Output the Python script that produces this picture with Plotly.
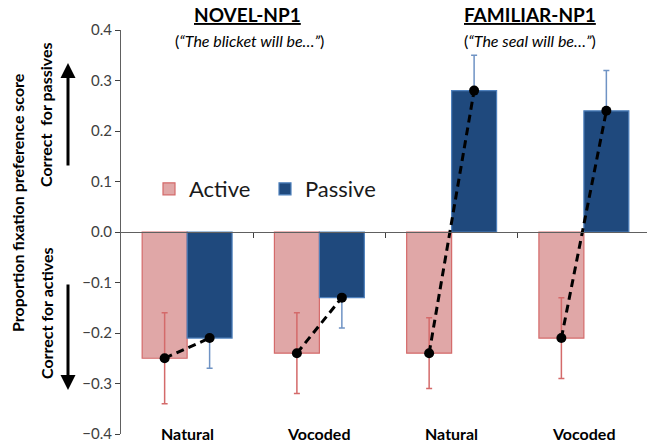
import plotly.graph_objects as go

categories = ["Natural", "Vocoded", "Natural", "Vocoded"]
active_vals = [-0.25, -0.24, -0.24, -0.21]
active_err = [0.09, 0.08, 0.07, 0.08]
passive_vals = [-0.21, -0.13, 0.28, 0.24]
passive_err = [0.06, 0.06, 0.07, 0.08]
y_ticks = [-0.4, -0.3, -0.2, -0.1, 0.0, 0.1, 0.2, 0.3, 0.4]

FONT = "Lato"
xs = list(range(len(categories)))
bargap = 0.32
half = (1 - bargap) / 4  # offset of each bar's centre from the group centre

fig = go.Figure()
fig.add_trace(go.Bar(
    x=xs, y=active_vals, name="Active",
    marker=dict(color="#e0a7a7", line=dict(color="#d46a6a", width=1.2)),
    error_y=dict(type="data", array=active_err, color="#d46a6a", thickness=1.5, width=3),
))
fig.add_trace(go.Bar(
    x=xs, y=passive_vals, name="Passive",
    marker=dict(color="#1f497d", line=dict(color="#4f81bd", width=1.2)),
    error_y=dict(type="data", symmetric=False,
                 array=[e if v > 0 else 0 for v, e in zip(passive_vals, passive_err)],
                 arrayminus=[e if v < 0 else 0 for v, e in zip(passive_vals, passive_err)],
                 color="#6f93c4", thickness=1.5, width=3),
))

# dashed connectors with dots
lx, ly = [], []
for i in xs:
    lx += [i - half, i + half, None]
    ly += [active_vals[i], passive_vals[i], None]
fig.add_trace(go.Scatter(
    x=lx, y=ly, mode="lines+markers", showlegend=False,
    line=dict(color="black", width=3, dash="8px,5px"),
    marker=dict(color="black", size=10),
))

# invisible trace for an axis at y=0 carrying group separators
fig.add_trace(go.Scatter(x=[0], y=[0], xaxis="x2", showlegend=False,
                         mode="markers", marker=dict(opacity=0), hoverinfo="skip"))

annotations = []
for i, c in enumerate(categories):
    annotations.append(dict(x=i, y=-0.4, xref="x", yref="y", text=f"<b>{c}</b>",
                            showarrow=False, yanchor="middle", yshift=1,
                            font=dict(family=FONT, size=16, color="black")))

W = 526.0
H = 404.0
def px_x(p):
    return (p - 121) / W
def px_y(p):
    return 1 - (p - 30) / H

annotations += [
    dict(x=px_x(247), y=px_y(15), xref="paper", yref="paper", text="<b><u>NOVEL-NP1</u></b>",
         showarrow=False, xanchor="center", yanchor="middle",
         font=dict(family=FONT, size=19, color="black")),
    dict(x=px_x(249), y=px_y(40), xref="paper", yref="paper", text="(<i>“The blicket will be…”</i>)",
         showarrow=False, xanchor="center", yanchor="middle",
         font=dict(family=FONT, size=16, color="black")),
    dict(x=px_x(530), y=px_y(15), xref="paper", yref="paper", text="<b><u>FAMILIAR-NP1</u></b>",
         showarrow=False, xanchor="center", yanchor="middle",
         font=dict(family=FONT, size=19, color="black")),
    dict(x=px_x(530), y=px_y(40), xref="paper", yref="paper", text="(<i>“The seal will be…”</i>)",
         showarrow=False, xanchor="center", yanchor="middle",
         font=dict(family=FONT, size=16, color="black")),
    dict(x=px_x(18), y=px_y(203), xref="paper", yref="paper", text="<b>Proportion fixation preference score</b>",
         showarrow=False, textangle=-90, xanchor="center", yanchor="middle",
         font=dict(family=FONT, size=16, color="black")),
    dict(x=px_x(46), y=px_y(115), xref="paper", yref="paper", text="<b>Correct  for passives</b>",
         showarrow=False, textangle=-90, xanchor="center", yanchor="middle",
         font=dict(family=FONT, size=16, color="black")),
    dict(x=px_x(46), y=px_y(313), xref="paper", yref="paper", text="<b>Correct for actives</b>",
         showarrow=False, textangle=-90, xanchor="center", yanchor="middle",
         font=dict(family=FONT, size=16, color="black")),
    dict(x=px_x(68), y=px_y(63), xref="paper", yref="paper", text="", showarrow=True,
         ax=0, ay=104, arrowhead=2, arrowsize=1, arrowwidth=3, arrowcolor="black"),
    dict(x=px_x(68), y=px_y(390), xref="paper", yref="paper", text="", showarrow=True,
         ax=0, ay=-107, arrowhead=2, arrowsize=1, arrowwidth=3, arrowcolor="black"),
]

fig.update_layout(
    width=647, height=446,
    margin=dict(l=121, r=0, t=30, b=12),
    plot_bgcolor="white", paper_bgcolor="white",
    barmode="group", bargap=bargap, bargroupgap=0,
    font=dict(family=FONT, color="#404040"),
    showlegend=True,
    legend=dict(orientation="h", x=px_x(149), y=px_y(189), xanchor="left", yanchor="middle",
                font=dict(family=FONT, size=22, color="#1a1a1a"), bgcolor="rgba(0,0,0,0)",
                entrywidth=71, itemwidth=30),
    xaxis=dict(range=[-0.5, -0.5 + W / 132.25], showticklabels=False, showgrid=False,
               zeroline=False, showline=False, ticks=""),
    xaxis2=dict(overlaying="x", matches="x", anchor="free", position=0.5,
                tickvals=[0.5, 1.5, 2.5], ticktext=["", "", ""], ticks="outside", ticklen=5,
                tickcolor="#404040", showline=True, linecolor="#606060", linewidth=1.2,
                showgrid=False, zeroline=False),
    yaxis=dict(range=[-0.4, 0.4], tickvals=y_ticks, tickformat=".1f", ticks="outside",
               ticklen=5, tickcolor="#404040", showline=True, linecolor="#606060", linewidth=1.2,
               showgrid=False, zeroline=False, tickfont=dict(family=FONT, size=15, color="#404040")),
    annotations=annotations,
)

fig.write_html("out.html", config={"displayModeBar": False},
               post_script="document.body.style.margin='0';")
